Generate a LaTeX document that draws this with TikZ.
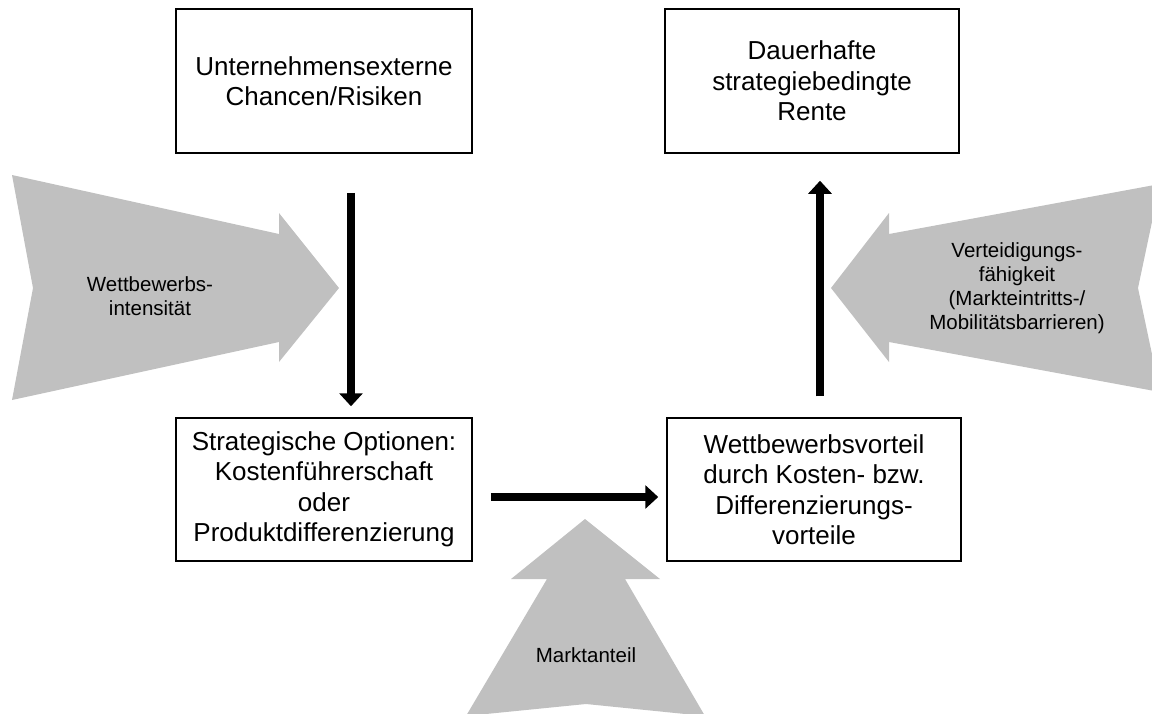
\documentclass[tikz,border=0pt]{standalone}
\usepackage{fontspec}
\setmainfont{Liberation Sans}
\usetikzlibrary{arrows.meta,calc}
\definecolor{bandgray}{RGB}{192,192,192}
\begin{document}
\begin{tikzpicture}[x=1pt,y=-1pt,
  box/.style={draw=black,line width=1.5pt,minimum width=296pt,align=center,
    inner sep=0pt,font=\fontsize{26}{30.5}\selectfont},
  flow/.style={line width=8pt,-{Triangle[width=23pt,length=13pt]}},
  band/.style={fill=bandgray,draw=none},
  bandtext/.style={align=center,font=\fontsize{20.5}{24}\selectfont}]
\useasboundingbox (0,0) rectangle (1152,713);
\clip (0,0) rectangle (1152,713);

% grey influence arrows
\fill[band] (12,175) -- (279,234) -- (279,213) -- (339,288) -- (279,362)
  -- (279,342) -- (12,400) -- (33,288) -- cycle;
\fill[band] (1160,184) -- (889,234) -- (889,213) -- (831,288) -- (889,362)
  -- (889,342) -- (1160,392) -- (1138,288) -- cycle;
\fill[band] (585,519) -- (660,579) -- (625,579) -- (705,716) -- (586,704)
  -- (466,716) -- (547,579) -- (511,579) -- cycle;

\node[bandtext] (wi) at (150,296) {Wettbewerbs-\\intensität};
\node[bandtext] (vf) at (1017,288) {Verteidigungs-\\fähigkeit\\(Markteintritts-/\\Mobilitätsbarrieren)};
\node[bandtext] (ma) at (586,655) {Marktanteil};

% boxes
\node[box,minimum height=144pt] (ext) at (324,81) {Unternehmensexterne\\Chancen/Risiken};
\node[box,minimum height=144pt,minimum width=294pt] (rent) at (812,81) {Dauerhafte\\strategiebedingte\\Rente};
\node[box,minimum height=143pt] (opt) at (324,489.5) {Strategische Optionen:\\Kostenführerschaft\\oder\\Produktdifferenzierung};
\node[box,minimum height=143pt,minimum width=294pt] (adv) at (814,489.5) {Wettbewerbsvorteil\\durch Kosten- bzw.\\Differenzierungs-\\vorteile};

% flow arrows
\coordinate (dx) at (351,0);
\coordinate (ux) at (820,0);
\coordinate (hy) at (0,497);
\draw[flow,shorten <=39pt,shorten >=11pt] (ext.south -| dx) -- (opt.north -| dx);
\draw[flow,shorten <=18pt,shorten >=8pt] (opt.east |- hy) -- (adv.west |- hy);
\draw[flow,shorten <=21pt,shorten >=27pt] (adv.north -| ux) -- (rent.south -| ux);
\end{tikzpicture}
\end{document}
